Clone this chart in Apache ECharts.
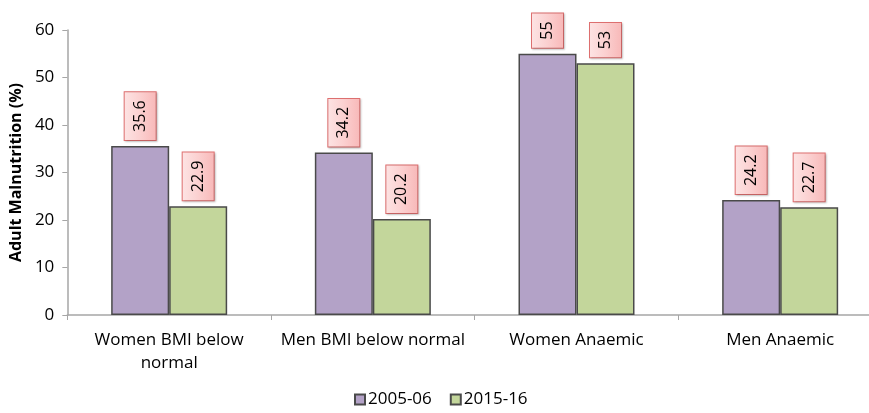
<!DOCTYPE html>
<html>
<head>
<meta charset="utf-8">
<script src="https://cdn.jsdelivr.net/npm/echarts@6/dist/echarts.min.js"></script>
<style>
  html, body { margin: 0; padding: 0; background: #fff; overflow: hidden; }
  #chart { width: 882px; height: 413px; }
</style>
</head>
<body>
<div id="chart"></div>
<script>
// Adult malnutrition indicators, two survey rounds
const categories = ['Women BMI below\nnormal', 'Men BMI below normal', 'Women Anaemic', 'Men Anaemic'];
const seriesNames = ['2005-06', '2015-16'];
const values2005 = [35.6, 34.2, 55, 24.2];
const values2015 = [22.9, 20.2, 53, 22.7];
const yTicks = [0, 10, 20, 30, 40, 50, 60];

const FONT = '"Open Sans", "Noto Sans", sans-serif';

// vertical value call-outs sitting above each bar
const valueLabel = {
  show: true,
  position: 'top',
  rotate: 90,
  align: 'left',
  verticalAlign: 'middle',
  distance: 6,
  fontFamily: FONT,
  fontSize: 16,
  lineHeight: 17,
  color: '#000',
  padding: [7, 8, 7, 8],
  borderColor: '#e07070',
  borderWidth: 1,
  backgroundColor: {
    type: 'linear', x: 0, y: 0, x2: 0, y2: 1,
    colorStops: [
      { offset: 0, color: '#fde4e4' },
      { offset: 0.5, color: '#fbd0d0' },
      { offset: 1, color: '#f8b8b8' }
    ]
  },
  shadowColor: 'rgba(0,0,0,0.18)',
  shadowBlur: 2,
  shadowOffsetX: 1,
  shadowOffsetY: 1
};

const barBase = {
  type: 'bar',
  barWidth: 58,
  barGap: '0%',
  label: valueLabel
};

const chart = echarts.init(document.getElementById('chart'), null, { renderer: 'canvas' });
chart.setOption({
  animation: false,
  textStyle: { fontFamily: FONT },
  grid: { left: 67, right: 0, top: 30, bottom: 98, containLabel: false },
  legend: {
    top: 386,
    left: 349,
    itemWidth: 10,
    itemHeight: 10,
    itemGap: 18,
    icon: 'rect',
    textStyle: { fontFamily: FONT, fontSize: 17, color: '#000', padding: [0, 0, 0, -2] },
    data: seriesNames
  },
  xAxis: {
    type: 'category',
    data: categories,
    axisLine: { lineStyle: { color: '#a6a6a6', width: 1.5 } },
    axisTick: { show: true, alignWithLabel: false, length: 5, lineStyle: { color: '#a6a6a6' } },
    axisLabel: { fontFamily: FONT, fontSize: 17, color: '#000', margin: 14, lineHeight: 23, interval: 0 }
  },
  yAxis: {
    type: 'value',
    min: yTicks[0],
    max: yTicks[yTicks.length - 1],
    interval: 10,
    name: 'Adult Malnutrition (%)',
    nameLocation: 'middle',
    nameGap: 43,
    nameTextStyle: { fontFamily: FONT, fontSize: 16, fontWeight: 'bold', color: '#000' },
    axisLine: { show: true, lineStyle: { color: '#a6a6a6', width: 1.5 } },
    axisTick: { show: true, length: 5, lineStyle: { color: '#a6a6a6' } },
    axisLabel: { fontFamily: FONT, fontSize: 17, color: '#000', margin: 13 },
    splitLine: { show: false }
  },
  series: [
    Object.assign({}, barBase, {
      name: seriesNames[0],
      data: values2005,
      itemStyle: { color: '#b3a2c7', borderColor: '#4a4a4a', borderWidth: 1.5 }
    }),
    Object.assign({}, barBase, {
      name: seriesNames[1],
      data: values2015,
      itemStyle: { color: '#c3d69b', borderColor: '#4a4a4a', borderWidth: 1.5 }
    })
  ]
});
</script>
</body>
</html>
